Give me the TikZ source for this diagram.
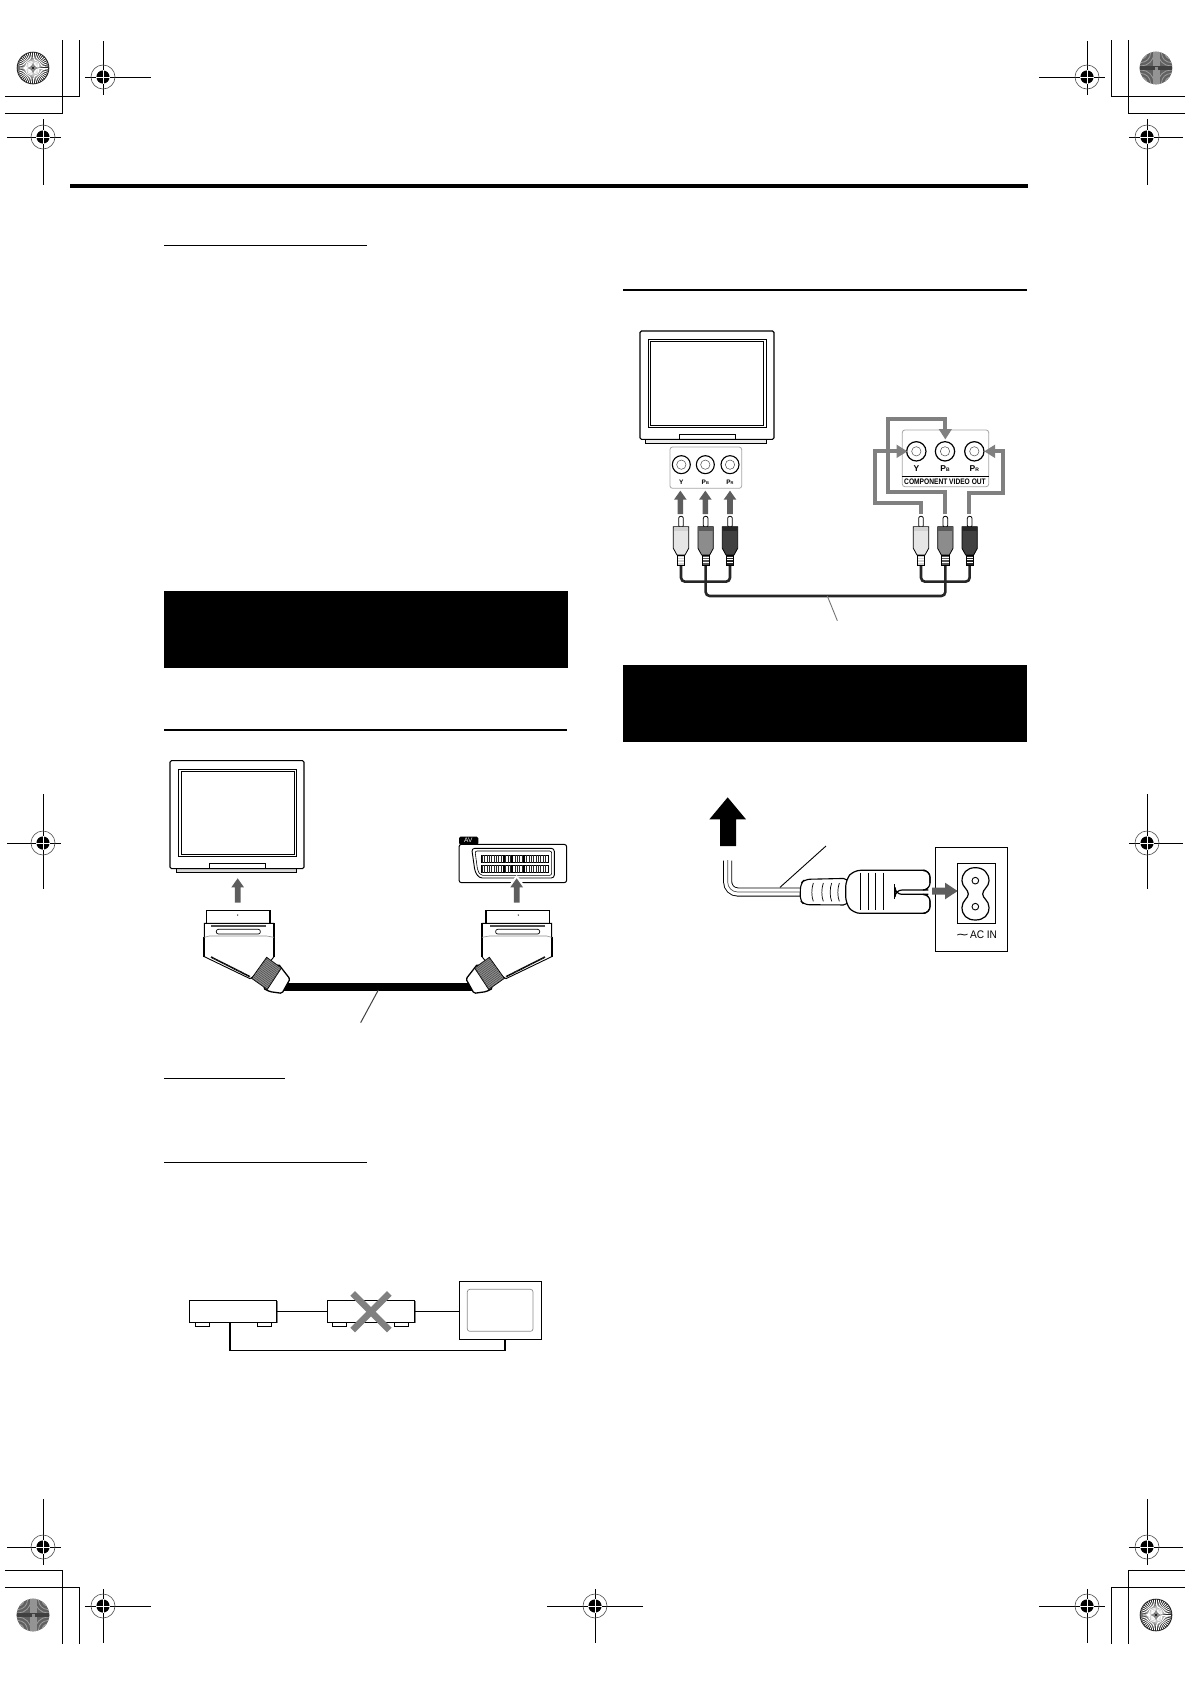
\documentclass[tikz,border=0pt]{standalone}
\usepackage{fontspec}
\setmainfont{Liberation Sans}
\newfontfamily\symfont{DejaVu Sans}
\definecolor{arrowgray}{gray}{0.37}
\definecolor{linkgray}{gray}{0.5}
\tikzset{
  hair/.style={line width=1pt,black},
  rulethin/.style={line width=1pt,black},
  rulethick/.style={line width=2pt,black},
  blackbox/.style={fill=black,draw=none},
  panel/.style={draw=gray!70,line width=.8pt,rounded corners=2.5pt,fill=white},
  tvbody/.style={draw=black,line width=1pt,rounded corners=1.5pt,fill=white},
  link/.style={draw=linkgray,line width=3.8pt,line join=miter},
  cable/.style={draw=black!85,line width=2.6pt,rounded corners=4pt},
  leader/.style={line width=.9pt,black!75},
  wire/.style={line width=1.6pt,black},
  devbox/.style={draw=black,line width=.9pt,fill=white,inner sep=0pt,minimum width=87.3pt,minimum height=22pt},
  foot/.style={draw=black,line width=.7pt,fill=white},
  smalllabel/.style={inner sep=0pt,font=\fontsize{6.5}{7}\selectfont\bfseries},
  panellabel/.style={inner sep=0pt,font=\fontsize{8.5}{9}\selectfont\bfseries}
}
\newcommand{\regmark}[6]{% x y x1 x2 y1 y2
  \draw[line width=.9pt] (#3,#2) -- (#4,#2);
  \draw[line width=.9pt] (#1,#5) -- (#1,#6);
  \draw[line width=.6pt,black!70] (#1,#2) circle (12);
  \fill[black] (#1,#2) circle (6.6);
  \draw[white,line width=.8pt] (#1-6.6,#2) -- (#1+6.6,#2) (#1,#2-6.6) -- (#1,#2+6.6);
}
\newcommand{\spokedisc}[2]{%
  \fill[black!85] (#1,#2) circle (16.3);
  \foreach \a in {0,8,...,352}{\draw[white,line width=.8pt] (#1,#2)++(\a:3) -- ++(\a:12.3);}
  \fill[black!45] (#1+6,#2) -- (#1+1.5,#2+1.5) -- (#1,#2+6) -- (#1-1.5,#2+1.5) -- (#1-6,#2) -- (#1-1.5,#2-1.5) -- (#1,#2-6) -- (#1+1.5,#2-1.5) -- cycle;
  \fill[black] (#1,#2) circle (1.1);
}
\newcommand{\graydisc}[2]{%
  \fill[black!62] (#1,#2) circle (16.3);
  \begin{scope}
    \clip (#1,#2) circle (16.3);
    \foreach \sx/\sy in {1/1,1/-1,-1/1,-1/-1}{
      \foreach \r in {6,9.5,13}{
        \draw[black!38,line width=.8pt] (#1+\sx*15,#2+\sy*15) circle (\r);
      }}
    \fill[black!42] (#1-3.5,#2-17) rectangle (#1+3.5,#2+17);
    \fill[black!75] (#1-17,#2-2.2) rectangle (#1+17,#2+2.2);
    \fill[black!45] (#1-1.5,#2-1.5) rectangle (#1+1.5,#2+1.5);
  \end{scope}
}
% up arrow in zoom units: x, tip, bottom
\newcommand{\uparr}[3]{\fill[arrowgray] (#1,#2) -- (#1+19,#2+27) -- (#1+8.5,#2+27) -- (#1+8.5,#3) -- (#1-8.5,#3) -- (#1-8.5,#2+27) -- (#1-19,#2+27) -- cycle;}
\newcommand{\rcaplug}[3]{% x, body colour, band colour
  \begin{scope}[shift={(#1,0)}]
    \draw[fill=white,line width=.8pt,rounded corners=2pt] (-7,622) -- (-7,589) -- (7,589) -- (7,622) -- cycle;
    \draw[fill=#2,line width=.8pt] (-23,620) -- (23,620) -- (23,685) -- (12,705) -- (-12,705) -- (-23,685) -- cycle;
    \fill[#3] (-22,621) rectangle (22,634);
    \fill[#3] (-11,705) rectangle (11,735);
    \foreach \yy in {711,719,727}{\draw[white,line width=.5pt] (-11,\yy) -- (11,\yy);}
    \draw[line width=.7pt] (-11,705) rectangle (11,736);
  \end{scope}
}
\newcommand{\scartplug}{%
  \draw[fill=white,line width=1.2pt] (170,552) -- (170,511) -- (360,511) -- (360,552);
  \fill (263,525) circle (2);
  \draw[fill=white,line width=.9pt] (163,550) -- (372,550) -- (372,650) -- (340,690) -- (300,716) -- (163,650) -- cycle;
  \draw[line width=2pt] (372,550) -- (372,650);
  \draw[line width=2pt] (163,590) -- (163,650);
  \draw[black!70,line width=1.8pt] (183,559) -- (348,559);
  \draw[line width=.7pt,rounded corners=2pt] (199,568) rectangle (331,582);
  \draw[black!45,line width=.6pt] (163,592) -- (178,588) -- (350,588) -- (372,592);
  \draw[line width=1.6pt,dash pattern=on 1pt off .4pt] (183,651) -- (300,710);
  \draw[fill=white,line width=1.3pt,rounded corners=1.5pt] (385,672) -- (420,717) -- (396,760) -- (360,755) -- (340,745) -- cycle;
  \draw[fill=black!45,line width=.8pt] (350,652) -- (394,684) -- (352,748) -- (305,715) -- cycle;
  \begin{scope}
    \clip (350,652) -- (394,684) -- (352,748) -- (305,715) -- cycle;
    \foreach \t in {0,.07,...,1}{\draw[black!75,line width=.4pt] ($(350,652)!\t!(305,715)$) -- ++(47,34);}
  \end{scope}
}
\usetikzlibrary{calc}
\begin{document}
\begin{tikzpicture}[x=1pt,y=-1pt]
\useasboundingbox (0,0) rectangle (1190,1684);
\fill[white] (0,0) rectangle (1190,1684);

% ---------- crop marks
\foreach \xa/\ya/\xb/\yb in {62/113/5/40,79/96/5/40,1128/113/1185/40,1111/96/1185/40,62/1570/5/1644,79/1587/5/1644,1128/1570/1185/1644,1111/1587/1185/1644}{
  \draw[line width=.9pt] (\xb,\ya) -- (\xa,\ya) -- (\xa,\yb);
}
\regmark{103}{77}{85}{151}{41}{95}
\regmark{43}{137}{7}{61}{119}{185}
\regmark{1087}{77}{1039}{1105}{41}{95}
\regmark{1147}{137}{1129}{1183}{119}{185}
\regmark{43}{843}{7}{61}{794}{889}
\regmark{1147}{843}{1129}{1183}{794}{889}
\regmark{43}{1547}{7}{61}{1499}{1565}
\regmark{103}{1606}{85}{151}{1589}{1643}
\regmark{1147}{1547}{1129}{1183}{1499}{1565}
\regmark{1087}{1606}{1039}{1105}{1589}{1643}
\regmark{595}{1606}{547}{643}{1589}{1643}
\spokedisc{33}{68}
\graydisc{1156}{68}
\graydisc{33}{1615}
\spokedisc{1156}{1615}

% ---------- page rules and black bars
\fill (70,184) rectangle (1028,188);
\draw[rulethin] (164,245) -- (367,245);
\draw[rulethick] (164,730) -- (567,730);
\draw[rulethin] (164,1078) -- (285,1078);
\draw[rulethin] (164,1162) -- (367,1162);
\draw[rulethick] (623,290) -- (1027,290);
\fill[blackbox] (164,591) rectangle (568,668);
\fill[blackbox] (623,665) rectangle (1027,742);

% ---------- SCART connection (zoom units)
\begin{scope}[shift={(150,740)},x=.33333pt,y=-.33333pt]
  \draw[line width=1pt,fill=black!15] (78,386) rectangle (440,397);
  \draw[tvbody,line width=1.1pt] (60,62) rectangle (462,386);
  \draw[line width=1pt] (86,88) rectangle (440,350);
  \draw[line width=.8pt] (93,95) rectangle (433,343);
  \draw[line width=.6pt] (178,386) -- (178,370) -- (347,370) -- (347,386);
  \uparr{263}{415}{488}
  % AV socket
  \draw[fill=white,line width=1pt,rounded corners=2.5pt] (927,313) rectangle (1250,428);
  \fill[rounded corners=1.5pt] (927,314) -- (927,290) -- (985,290) -- (985,314) -- cycle;
  \node[white,inner sep=0pt,font=\fontsize{6.5}{7}\selectfont] (avtab) at (955,302) {AV};
  \draw[line width=.9pt,rounded corners=3pt] (965,325) -- (1213,325) -- (1213,414) -- (988,414) -- (975,395) -- cycle;
  \draw[line width=.6pt,rounded corners=2pt] (975,333) -- (1205,333) -- (1205,406) -- (992,406) -- (983,392) -- cycle;
  \foreach \yt/\yb in {345/368,376/398}{
    \draw[line width=.5pt] (993,\yt) rectangle (1195,\yb);
    \foreach \xx in {997,1004,...,1192}{\draw[black!85,line width=.9pt] (\xx,\yt) -- (\xx,\yb);}
    \fill (1058,\yt) rectangle (1064,\yb);
    \fill (1082,\yt) rectangle (1088,\yb);
    \fill (1118,\yt) rectangle (1124,\yb);
  }
  \fill[white] (1100,405) -- (1125,438) -- (1075,438) -- cycle;
  \uparr{1100}{415}{488}
  % plugs and cable
  \coordinate (scartL) at (400,741);
  \coordinate (scartR) at (970,741);
  \coordinate (scartTap) at (685,750);
  \coordinate (scartEnd) at (632,848);
  \draw[line width=7.3pt] (scartL) -- (scartR);
  \draw[leader,line width=1pt] (scartTap) -- (scartEnd);
  \scartplug
  \begin{scope}[shift={(1368,0)},xscale=-1]
    \scartplug
  \end{scope}
\end{scope}

% ---------- Component connection (zoom units)
\begin{scope}[shift={(620,320)},x=.33333pt,y=-.33333pt]
  \draw[line width=1pt,fill=black!8] (76,358) rectangle (440,371);
  \draw[tvbody,line width=1.1pt] (60,33) rectangle (462,358);
  \draw[line width=1pt] (85,58) rectangle (438,322);
  \draw[line width=.8pt] (92,65) rectangle (431,315);
  \draw[line width=.6pt] (178,358) -- (178,343) -- (347,343) -- (347,358);
  % TV jacks
  \draw[panel] (150,381) rectangle (365,505);
  \foreach \xx in {184,256,330}{
    \draw[line width=1.1pt] (\xx,434) circle (27);
    \draw[line width=.5pt,black!70] (\xx,434) circle (14);
  }
  \node[smalllabel] (tvY) at (184,487) {Y};
  \node[smalllabel] (tvPb) at (256,487) {P\raisebox{0pt}{\fontsize{4}{4}\selectfont B}};
  \node[smalllabel] (tvPr) at (330,487) {P\raisebox{0pt}{\fontsize{4}{4}\selectfont R}};
  \uparr{181}{512}{582}
  \uparr{256}{512}{582}
  \uparr{330}{512}{582}
  % source jacks
  \draw[panel] (847,330) rectangle (1106,500);
  \draw[line width=.8pt] (847,469) -- (1106,469);
  \foreach \xx in {889,975,1063}{
    \draw[line width=1.2pt] (\xx,394) circle (29);
    \draw[line width=.5pt,black!70] (\xx,394) circle (14);
  }
  \node[panellabel] (srcY) at (889,445) {Y};
  \node[panellabel] (srcPb) at (975,445) {P\raisebox{0pt}{\fontsize{5}{5}\selectfont B}};
  \node[panellabel] (srcPr) at (1063,445) {P\raisebox{0pt}{\fontsize{5}{5}\selectfont R}};
  \node[inner sep=0pt,font=\fontsize{8}{8}\selectfont\bfseries] (cvo) at (975,485) {\scalebox{.83}[1]{COMPONENT VIDEO OUT}};
  % grey routing
  \coordinate (plugY) at (903,582);
  \coordinate (plugPb) at (976,582);
  \coordinate (plugPr) at (1047,582);
  \draw[link] (plugY) -- (903,550) -- (765,550) -- (765,394) -- (835,394);
  \fill[linkgray] (862,394) -- (830,374) -- (830,414) -- cycle;
  \draw[link] (plugPb) -- (976,517) -- (805,517) -- (805,297) -- (976,297) -- (976,330);
  \fill[linkgray] (976,358) -- (956,327) -- (996,327) -- cycle;
  \draw[link] (plugPr) -- (1047,520) -- (1150,520) -- (1150,394) -- (1120,394);
  \fill[linkgray] (1093,394) -- (1125,374) -- (1125,414) -- cycle;
  % cables
  \coordinate (lY) at (183,735);
  \coordinate (lPb) at (257,735);
  \coordinate (lPr) at (330,735);
  \coordinate (rY) at (903,735);
  \coordinate (rPb) at (976,735);
  \coordinate (rPr) at (1049,735);
  \coordinate (compTap) at (622,828);
  \coordinate (compEnd) at (652,902);
  \draw[cable] (lY) -- (183,785) -- (330,785) -- (lPr);
  \draw[cable] (rY) -- (903,785) -- (1049,785) -- (rPr);
  \draw[cable] (lPb) -- (257,828) -- (976,828) -- (rPb);
  \draw[leader,black!55] (compTap) -- (compEnd);
  \rcaplug{183}{black!10}{black!18}
  \rcaplug{257}{black!45}{black!65}
  \rcaplug{330}{black!75}{black!85}
  \rcaplug{903}{black!10}{black!18}
  \rcaplug{976}{black!45}{black!65}
  \rcaplug{1049}{black!75}{black!85}
\end{scope}

% ---------- Power cord (zoom units)
\begin{scope}[shift={(680,780)},x=.33333pt,y=-.33333pt]
  \fill (143,52) -- (198,118) -- (168,118) -- (168,198) -- (120,198) -- (120,118) -- (88,118) -- cycle;
  \draw[line width=9pt,rounded corners=10pt] (143,242) -- (143,336) -- (365,336);
  \draw[white,line width=7.2pt,rounded corners=10pt] (143,240) -- (143,336) -- (365,336);
  \draw[black!70,line width=.7pt,rounded corners=10pt] (143,240) -- (143,336) -- (365,336);
  \coordinate (cordTap) at (300,322);
  \coordinate (cordEnd) at (438,198);
  \draw[line width=.9pt] (cordTap) -- (cordEnd);
  % strain relief
  \draw[fill=white,line width=1.1pt,rounded corners=5pt] (505,295) -- (375,298) -- (362,310) -- (360,360) -- (372,374) -- (505,375) -- cycle;
  \foreach \xx in {400,430,455,478}{
    \draw[line width=.7pt] (\xx,309) .. controls (\xx-6,325) and (\xx-6,350) .. (\xx,364);
  }
  % plug body
  \draw[fill=white,line width=1.2pt,rounded corners=7pt] (497,300) -- (520,271) -- (750,271) -- (750,330) -- (645,330) -- (645,343) -- (750,343) -- (750,400) -- (520,400) -- (497,370) -- cycle;
  \foreach \xx in {541,564,587,610}{\draw[line width=.7pt] (\xx,278) -- (\xx,390);}
  \draw[line width=.8pt] (643,312) -- (643,358);
  % inlet panel
  \draw[line width=.9pt] (766,202) rectangle (982,514);
  \draw[line width=.9pt] (832,250) rectangle (946,430);
  \fill[white] (745,308) rectangle (840,358);
  \draw[line width=1.2pt,rounded corners=7pt] (745,330) -- (750,330) -- (750,271) -- (735,271);
  \draw[line width=1.2pt,rounded corners=7pt] (745,343) -- (750,343) -- (750,400) -- (735,400);
  \draw[line width=.9pt] (766,300) -- (766,360) (832,300) -- (832,360);
  \fill[arrowgray] (833,333) -- (795,308) -- (795,323) -- (756,323) -- (756,344) -- (795,344) -- (795,358) -- cycle;
  \draw[line width=1.2pt] (886,263) .. controls (912,263) and (927,280) .. (927,303) .. controls (927,320) and (908,328) .. (908,342) .. controls (908,355) and (927,362) .. (927,382) .. controls (927,405) and (912,420) .. (886,420) .. controls (860,420) and (846,405) .. (846,382) .. controls (846,362) and (865,355) .. (865,342) .. controls (865,328) and (846,320) .. (846,303) .. controls (846,280) and (860,263) .. (886,263) -- cycle;
  \draw[line width=.9pt] (886,302) circle (10);
  \draw[line width=.9pt] (886,380) circle (10);
  \node[inner sep=0pt,font=\fontsize{11}{12}\selectfont] (acin) at (889,465) {{\symfont\scalebox{1.5}[1]{∼}}\kern.5pt\scalebox{.92}[1]{AC IN}};
\end{scope}

% ---------- Wiring caution (zoom units)
\begin{scope}[shift={(170,1260)},x=.33333pt,y=-.33333pt]
  \draw[black!50,line width=.8pt] (323,124) -- (323,190);
  \draw[black!50,line width=.8pt] (736,124) -- (736,190);
  \draw[foot] (75,187) rectangle (117,199);
  \draw[foot] (262,187) rectangle (303,199);
  \draw[foot] (487,187) rectangle (528,199);
  \draw[foot] (673,187) rectangle (714,199);
  \node[devbox] (deviceA) at (189,154) {};
  \node[devbox] (deviceB) at (602.5,154) {};
  \node[draw=black,line width=1pt,fill=white,inner sep=0pt,minimum width=82.3pt,minimum height=57.7pt] (monitor) at (991.5,151.5) {};
  \draw[black!45,line width=.7pt,rounded corners=2.5pt] (892,88) rectangle (1089,214);
  \draw[wire] (deviceA.east) -- (deviceB.west);
  \draw[wire] (deviceB.east) -- (deviceB.east -| monitor.west);
  \coordinate (deviceAb) at (180,187);
  \coordinate (monitorb) at (1005,238);
  \draw[wire] (deviceAb) |- (monitorb |- 0,272) -- (monitorb);
  \draw[linkgray,line width=6.5pt] (548,100) -- (658,210);
  \draw[linkgray,line width=6.5pt] (658,100) -- (548,210);
\end{scope}
\end{tikzpicture}
\end{document}
